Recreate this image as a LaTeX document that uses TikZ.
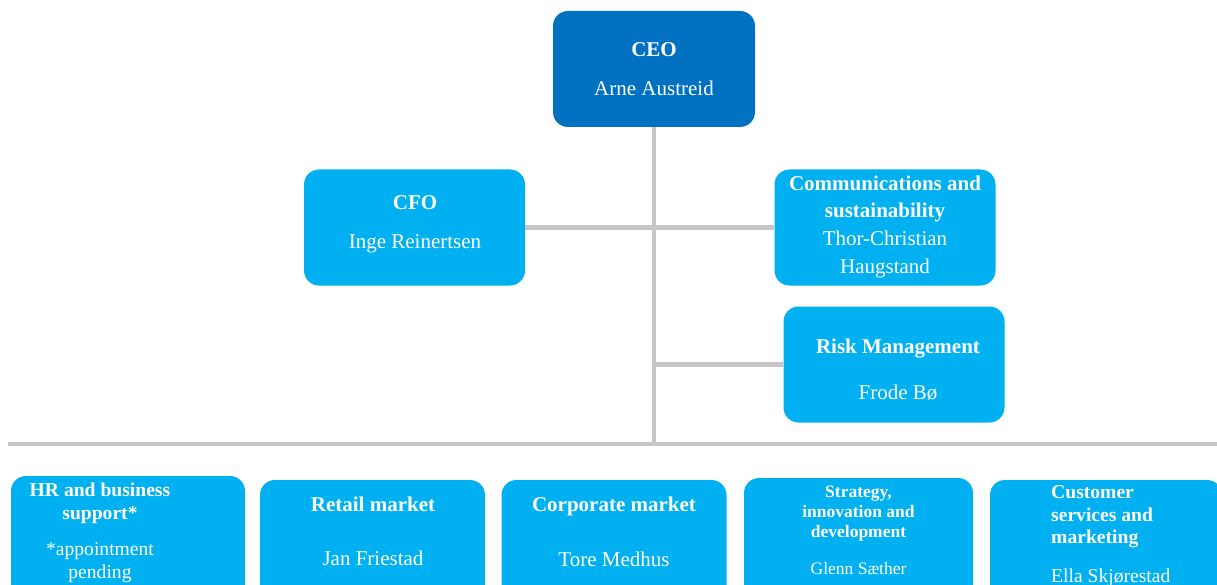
\documentclass[tikz,border=0pt]{standalone}
\usepackage{fontspec}
\setmainfont{Liberation Serif}
\definecolor{ceoblue}{RGB}{0,112,192}
\definecolor{boxblue}{RGB}{0,176,240}
\definecolor{linegray}{RGB}{198,198,198}
\newcommand\fsA{\fontsize{21}{25}\selectfont}
\newcommand\fsB{\fontsize{19.6}{23}\selectfont}
\newcommand\fsC{\fontsize{17.5}{21}\selectfont}
\tikzset{
  orgbox/.style={draw=none, fill=boxblue, rounded corners=15pt, inner sep=0pt},
  ceobox/.style={orgbox, fill=ceoblue},
  conn/.style={draw=linegray, line width=4.2pt},
  txt/.style={text=white, inner sep=0pt, anchor=base},
  txtl/.style={text=white, inner sep=0pt, anchor=base west},
}
\begin{document}
\begin{tikzpicture}[x=1pt,y=-1pt]
\useasboundingbox (0,0) rectangle (1217,585);
\clip (0,0) rectangle (1217,585);
% boxes
\node[ceobox, minimum width=202pt, minimum height=116pt] (ceo) at (654,69) {};
\node[orgbox, minimum width=221pt, minimum height=116pt] (cfo) at (414.5,227.5) {};
\node[orgbox, minimum width=221pt, minimum height=116pt] (comm) at (885,227.5) {};
\node[orgbox, minimum width=221pt, minimum height=116pt] (risk) at (894,364.5) {};
\node[orgbox, minimum width=234pt, minimum height=140pt] (hr) at (128,546) {};
\node[orgbox, minimum width=225pt, minimum height=140pt] (retail) at (372.5,550) {};
\node[orgbox, minimum width=225pt, minimum height=140pt] (corp) at (614,550) {};
\node[orgbox, minimum width=229pt, minimum height=140pt] (strat) at (858.5,548) {};
\node[orgbox, minimum width=232pt, minimum height=140pt] (cust) at (1106,550) {};
% connectors
\coordinate (busL) at (8,444);
\coordinate (busR) at (1217,444);
\draw[conn] (busL) -- (busR);
\draw[conn] (ceo.south) -- (ceo.south |- busL);
\draw[conn] (cfo.east) -- (comm.west);
\draw[conn] (ceo.south |- risk.west) -- (risk.west);
% texts
\node[txt] (ceo1) at (654,57) {\fsA\bfseries CEO};
\node[txt] (ceo2) at (654,96) {\fsA Arne Austreid};
\node[txt] (cfo1) at (415,210) {\fsA\bfseries CFO};
\node[txt] (cfo2) at (415,249) {\fsA Inge Reinertsen};
\node[txt] (comm1) at (885,191) {\fsA\bfseries Communications and};
\node[txt] (comm2) at (885,218) {\fsA\bfseries sustainability};
\node[txt] (comm3) at (885,246) {\fsA Thor-Christian};
\node[txt] (comm4) at (885,273) {\fsA Haugstand};
\node[txt] (risk1) at (898,353) {\fsA\bfseries Risk Management};
\node[txt] (risk2) at (898,399) {\fsA Frode Bø};
\node[txt] (hr1) at (100,496) {\fsB\bfseries HR and business};
\node[txt] (hr2) at (100,519) {\fsB\bfseries support*};
\node[txt] (hr3) at (100,555) {\fsB *appointment};
\node[txt] (hr4) at (100,578) {\fsB pending};
\node[txt] (ret1) at (373,511) {\fsA\bfseries Retail market};
\node[txt] (ret2) at (373,565) {\fsA Jan Friestad};
\node[txt] (cor1) at (614,511) {\fsA\bfseries Corporate market};
\node[txt] (cor2) at (614,566) {\fsA Tore Medhus};
\node[txt] (str1) at (858.5,497) {\fsC\bfseries Strategy,};
\node[txt] (str2) at (858.5,517) {\fsC\bfseries innovation and};
\node[txt] (str3) at (858.5,537) {\fsC\bfseries development};
\node[txt] (str4) at (858.5,574) {\fsC Glenn Sæther};
\node[txtl] (cus1) at (1051,498) {\fsB\bfseries Customer};
\node[txtl] (cus2) at (1051,521) {\fsB\bfseries services and};
\node[txtl] (cus3) at (1051,543) {\fsB\bfseries marketing};
\node[txtl] (cus4) at (1051,582) {\fsB Ella Skjørestad};
\end{tikzpicture}
\end{document}
